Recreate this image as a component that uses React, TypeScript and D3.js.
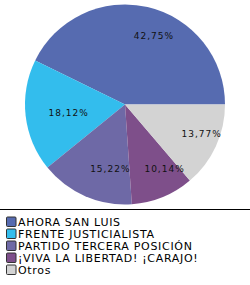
import * as d3 from "d3";
import React from "react";

const categories = [
  "AHORA SAN LUIS",
  "FRENTE JUSTICIALISTA",
  "PARTIDO TERCERA POSICIÓN",
  "¡VIVA LA LIBERTAD! ¡CARAJO!",
  "Otros",
];
const values = [42.75, 18.12, 15.22, 10.14, 13.77];
const colors = ["#566bb0", "#33bded", "#6e69a6", "#7e4f8a", "#d3d3d3"];

function PieChart() {
  const svgRef = React.useRef<SVGSVGElement>(null);

  React.useEffect(() => {
    const width = 250;
    const height = 285;
    const cx = 125;
    const cy = 104.5;
    const radius = 100;
    const labelRadius = 70;

    const svg = d3.select(svgRef.current);
    svg.selectAll("*").remove();

    // slices run counter-clockwise from 3 o'clock
    const pie = d3
      .pie<number>()
      .sort(null)
      .value((d) => d)
      .startAngle(Math.PI / 2)
      .endAngle(Math.PI / 2 - 2 * Math.PI);
    const arcs = pie(values);

    const arc = d3.arc<d3.PieArcDatum<number>>().innerRadius(0).outerRadius(radius);
    const labelArc = d3
      .arc<d3.PieArcDatum<number>>()
      .innerRadius(labelRadius)
      .outerRadius(labelRadius);

    const g = svg.append("g").attr("transform", `translate(${cx},${cy})`);

    g.selectAll("path")
      .data(arcs)
      .join("path")
      .attr("d", arc)
      .attr("fill", (_, i) => colors[i]);

    const fmt = (v: number) => v.toFixed(2).replace(".", ",") + "%";

    g.selectAll("text")
      .data(arcs)
      .join("text")
      .attr("x", (d) => labelArc.centroid(d)[0] - 7)
      .attr("y", (d) => labelArc.centroid(d)[1])
      .attr("dy", "0.35em")
      .attr("font-family", "DejaVu Sans, Verdana, sans-serif")
      .attr("font-size", 9)
      .attr("letter-spacing", 1)
      .attr("fill", "#111")
      .text((d) => fmt(d.data));

    // legend
    svg
      .append("line")
      .attr("x1", 0)
      .attr("x2", width)
      .attr("y1", 209.5)
      .attr("y2", 209.5)
      .attr("stroke", "#000")
      .attr("stroke-width", 1);

    const rowY = d3
      .scalePoint<string>()
      .domain(categories)
      .range([222, 270]);

    const legend = svg
      .append("g")
      .selectAll("g")
      .data(categories)
      .join("g")
      .attr("transform", (d) => `translate(0,${rowY(d)})`);

    legend
      .append("rect")
      .attr("x", 6.5)
      .attr("y", -5)
      .attr("width", 9.5)
      .attr("height", 9.5)
      .attr("rx", 1)
      .attr("fill", (_, i) => colors[i])
      .attr("stroke", "#333");

    legend
      .append("text")
      .attr("x", 18)
      .attr("dy", "0.36em")
      .attr("font-family", "DejaVu Sans, Verdana, sans-serif")
      .attr("font-size", 11)
      .attr("letter-spacing", 0.7)
      .attr("fill", "#000")
      .text((d) => d);

    svg.attr("width", width).attr("height", height);
  }, []);

  return (
    <svg
      ref={svgRef}
      width={250}
      height={285}
      style={{ position: "absolute", left: 0, top: 0, background: "#fff" }}
    />
  );
}

export default function App() {
  return <PieChart />;
}
